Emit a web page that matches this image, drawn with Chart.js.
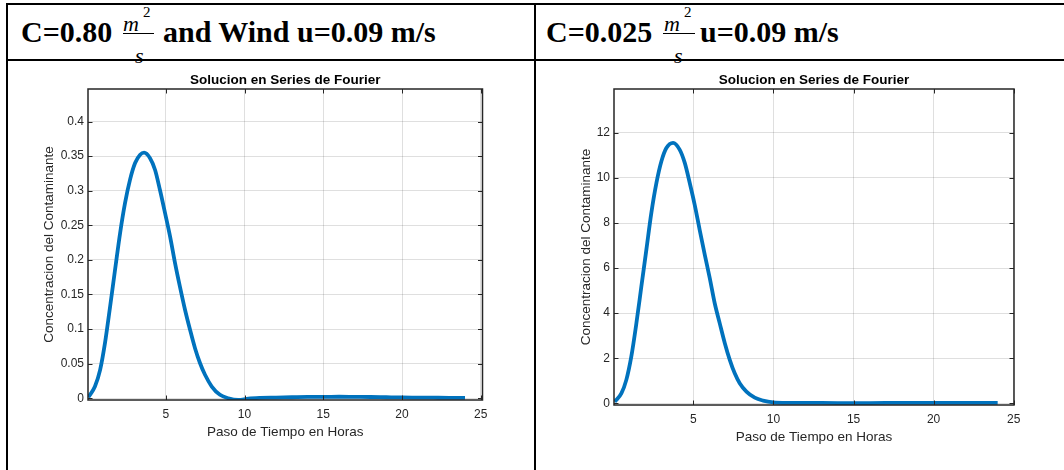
<!DOCTYPE html>
<html>
<head>
<meta charset="utf-8">
<script src="https://cdn.jsdelivr.net/npm/chart.js@4.4.1/dist/chart.umd.min.js"></script>
<style>
  body { margin: 0; width: 1064px; height: 470px; background: #fff; position: relative; overflow: hidden; }
  .rule { position: absolute; background: #000; z-index: 5; }
  .hd { position: absolute; font: bold 30px "Liberation Serif", serif; line-height: 30px; white-space: pre; color: #000; }
  .mi { position: absolute; font: italic 22px "Liberation Serif", serif; line-height: 22px; color: #000; }
  .sup { position: absolute; font: 15px "Liberation Serif", serif; line-height: 15px; color: #000; }
  .bar { position: absolute; height: 1.3px; background: #000; }
  canvas { position: absolute; }
</style>
</head>
<body>
<!-- table rules -->
<div class="rule" style="left:6px;top:3px;width:1058px;height:2px"></div>
<div class="rule" style="left:6px;top:59px;width:1058px;height:2px"></div>
<div class="rule" style="left:6px;top:3px;width:2px;height:467px"></div>
<div class="rule" style="left:534px;top:3px;width:2px;height:467px"></div>

<!-- left header -->
<div class="hd" style="left:21px;top:17px">C=0.80</div>
<div class="mi" style="left:123px;top:13px">m</div>
<div class="sup" style="left:143px;top:5px">2</div>
<div class="bar" style="left:123px;top:32.5px;width:31px"></div>
<div class="mi" style="left:135px;top:45px">s</div>
<div class="hd" style="left:163px;top:17px">and Wind u=0.09 m/s</div>

<!-- right header -->
<div class="hd" style="left:546px;top:17px">C=0.025</div>
<div class="mi" style="left:664px;top:13px">m</div>
<div class="sup" style="left:684px;top:5px">2</div>
<div class="bar" style="left:663px;top:32.5px;width:32px"></div>
<div class="mi" style="left:674px;top:45px">s</div>
<div class="hd" style="left:700px;top:17px">u=0.09 m/s</div>

<canvas id="chartA" width="526" height="409" style="left:8px;top:61px"></canvas>
<canvas id="chartB" width="528" height="409" style="left:536px;top:61px"></canvas>

<script>
// left panel: C = 0.80, u = 0.09
const horasA = [0.08, 0.5, 0.83, 1.14, 1.46, 1.78, 2.1, 2.41, 2.73, 3.05, 3.37, 3.62, 4.0, 4.32, 4.63, 4.95, 5.27, 5.59, 5.9, 6.22,
  6.54, 6.86, 7.17, 7.49, 7.92, 8.44, 8.97, 9.6, 10.24, 11, 12, 13, 14, 15, 16, 17, 18, 19, 20, 21, 22, 23, 24];
const concA = [0.0014, 0.017, 0.041, 0.080, 0.132, 0.186, 0.239, 0.282, 0.316, 0.340, 0.352, 0.355, 0.347, 0.330, 0.301, 0.268, 0.234, 0.195, 0.161, 0.128,
  0.099, 0.072, 0.051, 0.034, 0.017, 0.005, 0.0, -0.0025, -0.0005, 0.0005, 0.001, 0.0015, 0.002, 0.002, 0.0022, 0.002, 0.0018, 0.0015, 0.0012, 0.001, 0.0008, 0.0006, 0.0005];
const yTicksA = [0, 0.05, 0.1, 0.15, 0.2, 0.25, 0.3, 0.35, 0.4];

// right panel: C = 0.025, u = 0.09
const horasB = [0.08, 0.5, 0.81, 1.12, 1.44, 1.75, 2.06, 2.37, 2.69, 3.0, 3.31, 3.73, 4.14, 4.46, 4.77, 5.08, 5.39, 5.71, 6.02, 6.33,
  6.64, 6.96, 7.27, 7.58, 7.89, 8.31, 8.83, 9.35, 9.98, 10.8, 12, 14, 16, 18, 20, 22, 24];
const concB = [0.07, 0.44, 1.04, 2.07, 3.56, 5.19, 6.81, 8.44, 9.78, 10.74, 11.33, 11.56, 11.26, 10.67, 9.78, 8.81, 7.70, 6.59, 5.56, 4.44,
  3.56, 2.67, 1.93, 1.33, 0.89, 0.52, 0.25, 0.12, 0.04, 0.02, 0.02, 0.01, 0.01, 0.02, 0.02, 0.02, 0.02];
const yTicksB = [0, 2, 4, 6, 8, 10, 12];

const xTicks = [5, 10, 15, 20, 25];
const plotTitle = 'Solucion en Series de Fourier';

const TXT = '#262626';
const FONT = '"Liberation Sans", Arial, sans-serif';

// MATLAB-like box with inward ticks on all four sides, title centred over the axes
const matlabBox = {
  id: 'matlabBox',
  afterDraw(chart) {
    const { ctx, chartArea: a, scales } = chart;
    ctx.save();
    ctx.strokeStyle = TXT;
    ctx.lineWidth = 1;
    const tl = 4.5;
    ctx.beginPath();
    scales.x.ticks.forEach(t => {
      const px = Math.round(scales.x.getPixelForValue(t.value)) + 0.5;
      ctx.moveTo(px, a.bottom); ctx.lineTo(px, a.bottom - tl);
      ctx.moveTo(px, a.top); ctx.lineTo(px, a.top + tl);
    });
    scales.y.ticks.forEach(t => {
      const py = Math.round(scales.y.getPixelForValue(t.value)) + 0.5;
      ctx.moveTo(a.left, py); ctx.lineTo(a.left + tl, py);
      ctx.moveTo(a.right, py); ctx.lineTo(a.right - tl, py);
    });
    ctx.stroke();
    ctx.lineWidth = 1.5;
    ctx.strokeRect(a.left, a.top, a.right - a.left, a.bottom - a.top);

    ctx.fillStyle = '#000';
    ctx.font = 'bold 13.5px ' + FONT;
    ctx.textAlign = 'center';
    ctx.textBaseline = 'middle';
    ctx.fillText(plotTitle, (a.left + a.right) / 2, a.top - 9);
    ctx.restore();
  }
};

function makeChart(id, horas, conc, yTicks, cfg) {
  return new Chart(document.getElementById(id), {
    type: 'line',
    data: {
      datasets: [{
        data: horas.map((h, i) => ({ x: h, y: conc[i] })),
        borderColor: 'rgb(0, 114, 189)',
        borderWidth: 3.8,
        pointRadius: 0,
        tension: 0.4,
        cubicInterpolationMode: 'monotone',
        fill: false
      }]
    },
    options: {
      responsive: false,
      animation: false,
      events: [],
      layout: { padding: { left: 0, right: cfg.padRight, top: 28, bottom: 0 } },
      plugins: {
        legend: { display: false },
        tooltip: { enabled: false },
        title: { display: false }
      },
      scales: {
        x: {
          type: 'linear',
          min: cfg.xMin,
          max: cfg.xMax,
          afterBuildTicks: s => { s.ticks = xTicks.map(v => ({ value: v })); },
          afterFit: s => { s.height = cfg.xHeight; },
          grid: { color: 'rgba(38,38,38,0.15)', drawTicks: false },
          border: { display: false },
          ticks: { color: TXT, font: { family: FONT, size: 12 }, padding: 7, callback: v => String(v) },
          title: {
            display: true,
            text: 'Paso de Tiempo en Horas',
            color: TXT,
            font: { family: FONT, size: 13.5 },
            padding: { top: 0, bottom: cfg.xTitleBottom }
          }
        },
        y: {
          type: 'linear',
          min: cfg.yMin,
          max: cfg.yMax,
          afterBuildTicks: s => { s.ticks = yTicks.map(v => ({ value: v })); },
          afterFit: s => { s.width = cfg.yWidth; },
          grid: { color: 'rgba(38,38,38,0.15)', drawTicks: false },
          border: { display: false },
          ticks: { color: TXT, font: { family: FONT, size: 12 }, padding: 4, callback: v => String(v) },
          title: {
            display: true,
            text: 'Concentracion del Contaminante',
            color: TXT,
            font: { family: FONT, size: 13.5 },
            padding: { top: cfg.yTitleTop, bottom: 0 }
          }
        }
      }
    },
    plugins: [matlabBox]
  });
}

makeChart('chartA', horasA, concA, yTicksA, {
  xMin: 0.06, xMax: 25.11, yMin: -0.0025, yMax: 0.447,
  padRight: 51.5, xHeight: 70, yWidth: 80, xTitleBottom: 29.9, yTitleTop: 32.9
});
makeChart('chartB', horasB, concB, yTicksB, {
  xMin: 0.04, xMax: 25.02, yMin: -0.075, yMax: 13.95,
  padRight: 50, xHeight: 65, yWidth: 78, xTitleBottom: 24.9, yTitleTop: 42.6
});
</script>
</body>
</html>
